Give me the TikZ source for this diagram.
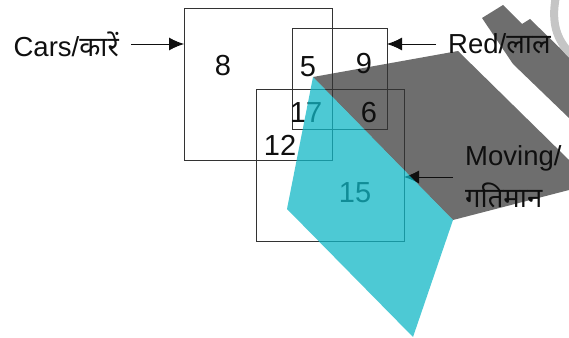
\documentclass[tikz,border=0pt]{standalone}
\usepackage{fontspec}
\setmainfont{Liberation Sans}
\newfontfamily\hindi[Script=Devanagari]{Noto Sans}
\usetikzlibrary{arrows.meta}
\definecolor{wmgrey}{RGB}{110,110,110}
\definecolor{wmteal}{RGB}{17,183,197}
\definecolor{ink}{RGB}{15,15,15}

\begin{document}
\begin{tikzpicture}[x=1pt, y=-1pt,
		box/.style={draw=ink!85, line width=0.9pt, inner sep=0pt, outer sep=0pt},
		num/.style={font=\fontsize{29}{32}\selectfont, text=ink},
		lbl/.style={font=\fontsize{27.5}{42}\selectfont, text=ink, inner xsep=12pt},
		arr/.style={draw=ink, line width=0.9pt, -{Latex[length=15pt,width=13pt]}}]
		\useasboundingbox (0,0) rectangle (569,337);

		\fill[wmgrey] (313,77) -- (458,51) -- (569,160) -- (569,190) -- (453,220) -- cycle;
		\fill[wmgrey] (482,18) -- (503,5) -- (522,24) -- (530,19) -- (569,57) -- (569,118) -- (513,64) -- cycle;
		\draw[wmgrey!40, line width=8pt] (556,-4) .. controls (551,22) and (556,40) .. (572,55);

		\node[box, minimum width=148, minimum height=152] (cars) at (258,84) {};
		\node[box, minimum width=95, minimum height=101] (red) at (339.5,78.5) {};
		\node[box, minimum width=148, minimum height=152] (move) at (330,165) {};

		\node[num] (n8) at (223,66) {8};
		\node[num] (n5) at (308,67) {5};
		\node[num] (n9) at (364,64) {9};
		\node[num] (n17) at (306,113) {17};
		\node[num] (n6) at (369,113) {6};
		\node[num] (n12) at (280,145) {12};
		\node[num] (n15) at (355,193) {15};

		\node[lbl, anchor=east] (carsl) at (131,44) {Cars/{\hindi कारें}};
		\node[lbl, anchor=west] (redl) at (436,44) {Red/{\hindi लाल}};
		\node[lbl, anchor=west, align=left] (movel) at (453,177) {Moving/\\{\hindi गतिमान}};

		\draw[arr] (carsl.east) -- (carsl.east -| cars.west);
		\draw[arr] (redl.west) -- (redl.west -| red.east);
		\draw[arr] (movel.west) -- (movel.west -| move.east);

		\fill[wmteal, fill opacity=0.75] (313,77) -- (287,209) -- (413,337) -- (453,220) -- cycle;
	\end{tikzpicture}
\end{document}
